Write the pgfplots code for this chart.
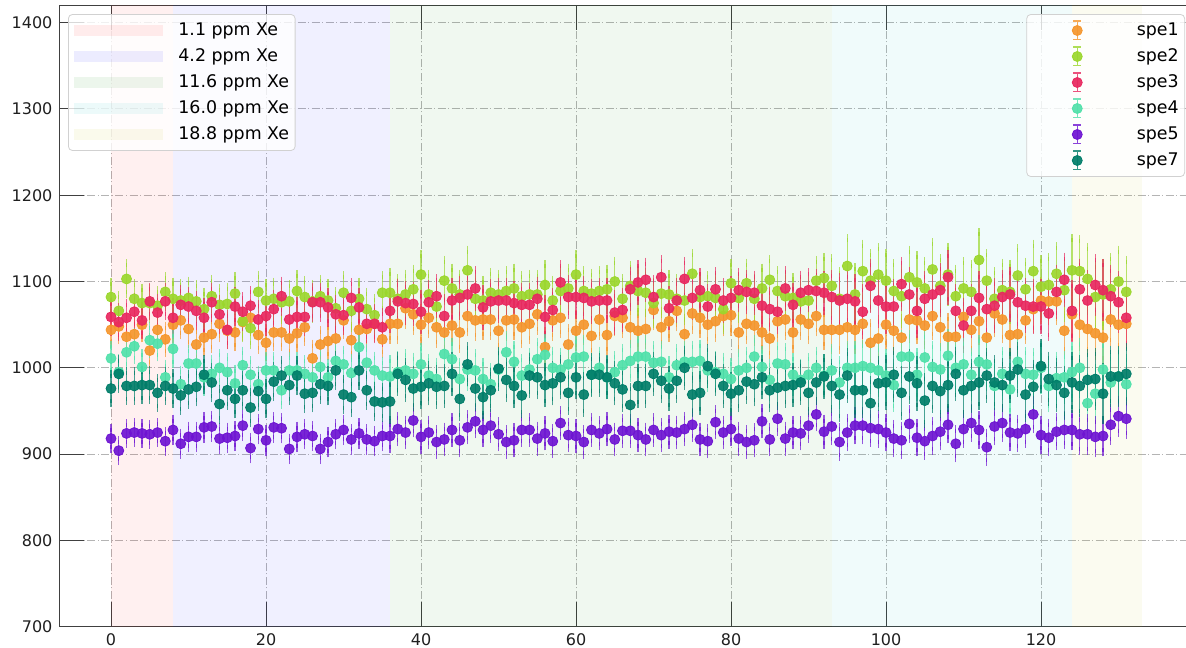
\documentclass[border=0pt]{standalone}
\usepackage{fontspec}
\setmainfont{DejaVu Sans}
\usepackage{pgfplots}
\usepackage{pgfplotstable}
\pgfplotsset{compat=1.18}

% series colours
\definecolor{spe1}{HTML}{F5962D}
\definecolor{spe2}{HTML}{9BD72D}
\definecolor{spe3}{HTML}{E8285F}
\definecolor{spe4}{HTML}{50E1AA}
\definecolor{spe5}{HTML}{6E14D2}
\definecolor{spe7}{HTML}{007D69}
% doping-period band colours
\definecolor{bandA}{RGB}{255,0,0}
\definecolor{bandB}{RGB}{0,0,255}
\definecolor{bandC}{RGB}{0,128,0}
\definecolor{bandD}{RGB}{0,191,191}
\definecolor{bandE}{RGB}{191,191,0}
\definecolor{gridgray}{HTML}{B4B4B4}
\definecolor{spine}{HTML}{404040}

% run, then value and uncertainty for each channel
\pgfplotstableread{
x s1 e1 s2 e2 s3 e3 s4 e4 s5 e5 s7 e7
0 1044 16 1082 18 1059 17 1011 16 918 12 976 17
1 1048 16 1066 18 1053 17 995 16 904 12 993 17
2 1036 16 1103 18 1058 17 1018 16 924 12 979 17
3 1039 16 1080 18 1065 17 1025 16 925 12 979 17
4 1050 16 1075 18 1055 17 1001 16 924 12 980 17
5 1020 16 1075 18 1077 17 1032 16 923 12 980 17
6 1044 16 1072 18 1064 17 1028 16 925 12 971 17
7 1033 16 1088 18 1077 17 989 16 915 12 979 17
8 1050 17 1080 20 1058 18 1022 17 928 13 976 18
9 1055 17 1078 20 1073 18 981 17 912 13 968 18
10 1045 17 1081 20 1071 18 1005 17 920 13 975 18
11 1027 17 1077 20 1066 18 1005 17 920 13 978 18
12 1035 17 1068 20 1058 18 989 17 931 13 992 18
13 1039 17 1083 20 1076 18 993 17 932 13 983 18
14 1051 17 1073 20 1062 18 1000 17 918 13 958 18
15 1043 17 1074 20 1044 18 995 17 919 13 974 18
16 1041 17 1086 20 1071 18 982 17 921 13 964 18
17 1053 17 1054 20 1065 18 1003 17 933 13 974 18
18 1058 17 1046 20 1072 18 992 17 907 13 954 18
19 1038 17 1088 20 1056 18 981 17 929 13 973 18
20 1029 17 1078 20 1060 18 997 17 916 13 964 18
21 1041 17 1080 20 1068 18 997 17 931 13 984 18
22 1041 17 1076 20 1083 18 974 17 930 13 991 18
23 1034 17 1077 20 1056 18 997 17 906 13 980 18
24 1040 17 1089 20 1059 18 997 17 920 13 991 18
25 1047 17 1082 20 1059 18 993 17 923 13 970 18
26 1011 17 1077 20 1076 18 989 17 921 13 971 18
27 1027 17 1083 20 1076 18 1001 17 906 13 981 18
28 1031 17 1078 20 1070 18 989 17 914 13 979 18
29 1034 17 1069 20 1062 18 1008 17 923 13 997 18
30 1055 17 1087 20 1061 18 1004 17 928 13 969 18
31 1032 17 1066 20 1081 18 994 17 917 13 966 18
32 1044 17 1080 20 1070 18 1024 17 924 13 997 18
33 1045 17 1068 20 1051 18 1006 17 917 13 974 18
34 1051 17 1061 20 1051 18 997 17 915 13 961 18
35 1033 17 1087 20 1047 18 991 17 921 13 960 18
36 1051 19 1087 24 1066 21 990 20 921 15 961 21
37 1051 19 1080 24 1077 21 995 20 929 15 993 21
38 1069 19 1085 24 1075 21 997 20 925 15 986 21
39 1062 19 1091 24 1074 21 993 20 939 15 976 21
40 1050 19 1108 24 1065 21 1004 20 920 15 978 21
41 1058 19 1085 24 1076 21 991 20 925 15 982 21
42 1047 19 1071 24 1083 21 987 20 914 15 978 21
43 1041 19 1101 24 1060 21 1016 20 917 15 979 21
44 1049 19 1092 24 1078 21 1010 20 928 15 993 21
45 1041 19 1085 24 1081 21 987 20 916 15 964 21
46 1060 19 1113 24 1085 21 998 20 931 15 1004 21
47 1055 19 1080 24 1092 21 997 20 938 15 976 21
48 1056 19 1078 24 1070 21 987 20 928 15 966 21
49 1056 19 1087 24 1077 21 981 20 933 15 974 21
50 1043 19 1085 24 1078 21 998 20 923 15 999 21
51 1055 19 1089 24 1078 21 1018 20 914 15 986 21
52 1056 19 1092 24 1075 21 1007 20 916 15 979 21
53 1047 19 1083 24 1073 21 991 20 928 15 968 21
54 1051 19 1085 24 1073 21 998 20 928 15 991 21
55 1062 19 1085 24 1080 21 1010 20 918 15 989 21
56 1024 19 1096 24 1059 21 1015 20 924 15 980 21
57 1055 19 1078 24 1067 21 1000 20 915 15 982 21
58 1058 19 1089 24 1099 21 998 20 936 15 989 21
59 1027 19 1092 24 1082 21 1004 20 922 15 971 21
60 1043 19 1108 24 1082 21 1012 20 921 15 989 21
61 1050 19 1089 24 1081 21 1013 20 914 15 969 21
62 1037 19 1086 24 1077 21 992 20 928 15 992 21
63 1056 19 1089 24 1078 21 1000 20 924 15 992 21
64 1038 19 1091 24 1078 21 989 20 929 15 989 21
65 1060 19 1100 24 1064 21 995 20 917 15 982 21
66 1058 19 1080 24 1067 21 1003 20 927 15 975 21
67 1047 19 1095 24 1091 21 1008 20 927 15 957 21
68 1043 19 1089 24 1099 21 1013 20 922 15 979 21
69 1045 19 1087 24 1102 21 1013 20 917 15 979 21
70 1067 19 1075 24 1082 21 1006 20 928 15 993 21
71 1047 19 1086 24 1105 21 1007 20 922 15 985 21
72 1054 19 1085 24 1069 21 989 20 926 15 976 21
73 1066 19 1080 24 1078 21 1003 20 925 15 985 21
74 1039 19 1078 24 1103 21 1007 20 929 15 1000 21
75 1063 19 1109 24 1081 21 1007 20 934 15 969 21
76 1058 19 1082 24 1090 21 1008 20 917 15 971 21
77 1050 19 1083 24 1071 21 997 20 915 15 1002 21
78 1054 19 1081 24 1091 21 995 20 937 15 993 21
79 1060 19 1068 24 1078 21 993 20 925 15 979 21
80 1061 19 1098 24 1081 21 987 20 929 15 970 21
81 1041 19 1081 24 1090 21 997 20 918 15 974 21
82 1051 19 1098 24 1088 21 1000 20 914 15 984 21
83 1049 19 1080 24 1087 21 1013 20 916 15 981 21
84 1041 19 1092 24 1072 21 1001 20 938 15 989 21
85 1034 19 1102 24 1068 21 986 20 917 15 974 21
86 1054 19 1089 24 1065 21 1005 20 941 15 977 21
87 1056 19 1083 24 1092 21 1004 20 918 15 979 21
88 1041 19 1081 24 1073 21 992 20 925 15 980 21
89 1056 19 1077 24 1087 21 986 20 924 15 983 21
90 1051 19 1078 24 1090 21 992 20 933 15 971 21
91 1060 19 1101 24 1089 21 1000 20 946 15 983 21
92 1044 19 1104 24 1087 21 991 20 926 15 990 21
93 1044 23 1095 32 1082 27 997 26 932 17 979 27
94 1044 23 1080 32 1078 27 983 26 914 17 969 27
95 1047 23 1118 32 1080 27 1000 26 925 17 991 27
96 1044 23 1085 32 1077 27 1000 26 933 17 974 27
97 1051 23 1112 32 1065 27 1002 26 933 17 974 27
98 1029 23 1101 32 1095 27 1000 26 930 17 959 27
99 1034 23 1108 32 1078 27 997 26 929 17 982 27
100 1050 23 1101 32 1071 27 991 26 925 17 983 27
101 1043 23 1089 32 1071 27 980 26 918 17 992 27
102 1035 23 1083 32 1097 27 1013 26 916 17 971 27
103 1056 23 1105 32 1085 27 1013 26 935 17 990 27
104 1055 23 1099 32 1066 27 992 26 919 17 982 27
105 1049 23 1092 32 1080 27 1012 26 915 17 962 27
106 1060 23 1114 32 1085 27 1001 26 921 17 979 27
107 1047 23 1095 32 1090 27 998 26 926 17 973 27
108 1036 23 1108 32 1105 27 1014 26 934 17 980 27
109 1036 23 1083 32 1066 27 1000 26 912 17 993 27
110 1059 23 1092 32 1049 27 1004 26 929 17 974 27
111 1044 23 1088 32 1066 27 992 26 936 17 979 27
112 1054 23 1125 32 1081 27 1007 26 928 17 983 27
113 1035 23 1101 32 1068 27 1004 26 908 17 991 27
114 1063 23 1080 32 1072 27 979 26 932 17 983 27
115 1056 23 1090 32 1082 27 993 26 936 17 980 27
116 1038 23 1088 32 1085 27 975 26 925 17 991 27
117 1039 23 1107 32 1076 27 1007 26 924 17 998 27
118 1055 23 1091 32 1072 27 993 26 929 17 969 27
119 1068 23 1112 32 1071 27 992 26 946 17 978 27
120 1078 23 1094 32 1071 27 1000 26 922 17 1002 27
121 1077 23 1096 32 1063 27 979 26 919 17 987 27
122 1077 23 1109 32 1088 27 988 26 926 17 980 27
123 1043 23 1090 32 1102 27 989 26 928 17 971 27
124 1062 26 1113 37 1066 31 995 30 928 19 983 31
125 1050 26 1112 37 1091 31 1000 30 923 19 979 31
126 1045 26 1103 37 1078 31 959 30 923 19 986 31
127 1040 26 1082 37 1096 31 970 30 920 19 987 31
128 1035 26 1085 37 1090 31 998 30 921 19 970 31
129 1056 26 1091 37 1083 31 983 30 934 19 990 31
130 1050 26 1100 37 1076 31 990 30 944 19 990 31
131 1051 26 1088 37 1058 31 981 30 941 19 993 31
}\spedata

\pgfplotsset{
  frame/.style={
    at={(0,0)}, anchor=south west,
    scale only axis, width=566.9pt, height=310.65pt,
    xmin=-6.65, xmax=139.65, ymin=700, ymax=1420,
  },
  legendbox/.style={
    draw=black!18, rounded corners=2pt, fill=white, fill opacity=0.8,
    text opacity=1, font=\fontsize{8.7}{10}\selectfont,
    inner xsep=3pt, inner ysep=3pt, row sep=3pt,
    nodes={inner sep=0pt, anchor=west},
  },
  serie/.style={
    only marks, mark=*, color=#1, mark size=2.5pt,
    mark options={draw=none, fill=#1, fill opacity=0.92},
    legend image code/.code={
      \path[draw=none, fill=none] (0pt,-5pt) rectangle (52pt,5pt);
      \draw[draw=#1, sharp corners, fill=none, line width=0.6pt, draw opacity=0.8]
        (22.25pt,-4.7pt) -- (22.25pt,4.7pt)
        (20.25pt,-4.7pt) -- (24.25pt,-4.7pt)
        (20.25pt,4.7pt) -- (24.25pt,4.7pt);
      \draw[##1] plot coordinates {(22.25pt,0pt)};
    },
    error bars/.cd, y dir=both, y explicit,
    error bar style={line width=0.55pt, opacity=0.7},
    error mark options={line width=0.55pt, mark size=2pt, opacity=0.7},
  },
  band/.style={draw=none, fill=#1, fill opacity=0.06, forget plot},
  bandlegend/.style={
    legend image code/.code={
      \path[draw=none, fill=none] (0pt,-5pt) rectangle (52pt,5pt);
      \path[sharp corners, draw=none, ##1] (0pt,-2.75pt) rectangle (44.5pt,2.75pt);
    },
  },
}

\begin{document}
\begin{tikzpicture}
\begin{axis}[
  frame,
  xtick={0,20,...,120}, ytick={700,800,...,1400},
  xtick pos=both, ytick pos=left,
  tick align=inside, major tick length=12.5pt,
  tick style={spine, line width=0.5pt},
  axis line style={spine, line width=0.6pt},
  grid=major,
  grid style={gridgray, line width=0.45pt,
    dash pattern=on 4pt off 1.2pt on 0.6pt off 1.2pt},
  ticklabel style={font=\fontsize{8}{9.6}\selectfont, text=black!88},
  /pgf/number format/assume math mode=true,
  /pgf/number format/1000 sep={},
  legend style={legendbox, at={(0.9927,0.986)}, anchor=north east},
]
% doping periods
\addplot[band=bandA] coordinates {(0,1420) (8,1420)} \closedcycle;
\addplot[band=bandB] coordinates {(8,1420) (36,1420)} \closedcycle;
\addplot[band=bandC] coordinates {(36,1420) (93,1420)} \closedcycle;
\addplot[band=bandD] coordinates {(93,1420) (124,1420)} \closedcycle;
\addplot[band=bandE] coordinates {(124,1420) (133,1420)} \closedcycle;

\addplot[serie=spe1] table[x=x, y=s1, y error=e1] {\spedata};
\addlegendentry{spe1}
\addplot[serie=spe2] table[x=x, y=s2, y error=e2] {\spedata};
\addlegendentry{spe2}
\addplot[serie=spe3] table[x=x, y=s3, y error=e3] {\spedata};
\addlegendentry{spe3}
\addplot[serie=spe4] table[x=x, y=s4, y error=e4] {\spedata};
\addlegendentry{spe4}
\addplot[serie=spe5] table[x=x, y=s5, y error=e5] {\spedata};
\addlegendentry{spe5}
\addplot[serie=spe7] table[x=x, y=s7, y error=e7] {\spedata};
\addlegendentry{spe7}
\end{axis}

% legend for the doping periods
\begin{axis}[
  frame, hide axis, bandlegend,
  legend style={legendbox, at={(0.0075,0.986)}, anchor=north west},
]
\addlegendimage{fill=bandA, fill opacity=0.07}
\addlegendentry{1.1 ppm Xe}
\addlegendimage{fill=bandB, fill opacity=0.07}
\addlegendentry{4.2 ppm Xe}
\addlegendimage{fill=bandC, fill opacity=0.07}
\addlegendentry{11.6 ppm Xe}
\addlegendimage{fill=bandD, fill opacity=0.07}
\addlegendentry{16.0 ppm Xe}
\addlegendimage{fill=bandE, fill opacity=0.07}
\addlegendentry{18.8 ppm Xe}
\end{axis}

\pgfresetboundingbox
\useasboundingbox (-29.75pt,-10.15pt) rectangle (563.25pt,313.35pt);
\end{tikzpicture}
\end{document}
